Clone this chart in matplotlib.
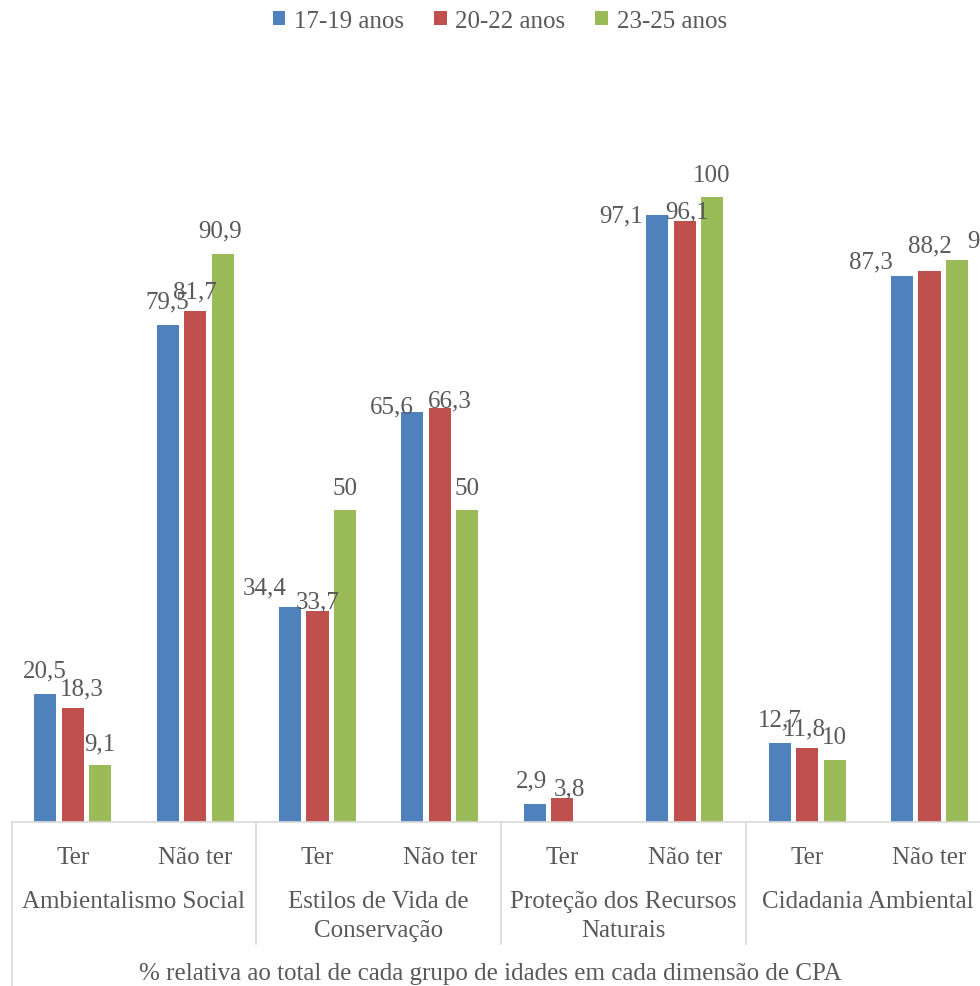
import matplotlib
matplotlib.use("Agg")
import matplotlib.pyplot as plt
import matplotlib.transforms as mtransforms
import numpy as np

# Dimensions and sub-categories
dimensions = ["Ambientalismo Social", "Estilos de Vida de\nConservação",
              "Proteção dos Recursos\nNaturais", "Cidadania Ambiental"]
subcats = ["Ter", "Não ter"]
series_names = ["17-19 anos", "20-22 anos", "23-25 anos"]

# Percentages per age group, ordered dimension by dimension (Ter, Não ter)
age_17_19 = [20.5, 79.5, 34.4, 65.6, 2.9, 97.1, 12.7, 87.3]
age_20_22 = [18.3, 81.7, 33.7, 66.3, 3.8, 96.1, 11.8, 88.2]
age_23_25 = [9.1, 90.9, 50.0, 50.0, np.nan, 100.0, 10.0, 90.0]

# Data-label placement (dx, dy in pixels from the bar top centre)
label_offsets = [
    [(0, 17), (0, 18), (-25, 14), (-21, 0), (-3, 17), (-36, -6), (0, 17), (-31, 9)],
    [(9, 13), (0, 14), (0, 4), (10, 1), (7, 4), (2, 4), (-3, 14), (0, 19)],
    [(0, 16), (-3, 17), (0, 15), (0, 15), (0, 16), (-1, 16), (0, 16), (23, 13)],
]

colors = ["#4F81BD", "#C0504D", "#9BBB59"]
text_color = "#595959"
grid_color = "#D9D9D9"
FS = 18

plt.rcParams["font.family"] = ["Liberation Serif", "DejaVu Serif"]

W, H = 980, 987
fig = plt.figure(figsize=(W / 100, H / 100), dpi=100)

# Plot area: left edge at 11.5 px, baseline at 823 px from top, right edge beyond canvas
x0, x1 = 11.5, 11.5 + 8 * 122.4
y_base, y_top = 823, 73
ax = fig.add_axes([x0 / W, (H - y_base) / H, (x1 - x0) / W, (y_base - y_top) / H])
ax.set_xlim(0, 8)
ax.set_ylim(0, 120)
ax.axis("off")

slot = 0.225
bw = 0.18
centers = np.arange(8) + 0.5
all_series = [age_17_19, age_20_22, age_23_25]
for k, (vals, name, c) in enumerate(zip(all_series, series_names, colors)):
    xs = centers + (k - 1) * slot
    v = np.array(vals, dtype=float)
    ax.bar(xs, np.nan_to_num(v), width=bw, color=c, label=name, zorder=2)
    for j, (x, val) in enumerate(zip(xs, v)):
        if np.isnan(val):
            continue
        lab = f"{val:.1f}".replace(".", ",")
        if lab.endswith(",0"):
            lab = lab[:-2]
        dx, dy = label_offsets[k][j]
        ax.annotate(lab, (x, val), xytext=(dx, dy), textcoords="offset pixels",
                    ha="center", va="baseline", fontsize=FS, color=text_color,
                    annotation_clip=False)

# Baseline and category separators
blend = mtransforms.blended_transform_factory(ax.transData, fig.transFigure)
fy = lambda px: (H - px) / H
ax.plot([0, 8], [fy(y_base), fy(y_base)], transform=blend, color=grid_color, lw=1.2, clip_on=False)
ax.plot([0, 0], [fy(y_base), fy(H)], transform=blend, color=grid_color, lw=1.2, clip_on=False)
for xv in [2, 4, 6, 8]:
    ax.plot([xv, xv], [fy(y_base), fy(945)], transform=blend, color=grid_color, lw=1.2, clip_on=False)

# Category labels
for i, c in enumerate(centers):
    ax.text(c, fy(858), subcats[i % 2], transform=blend, ha="center", va="center",
            fontsize=FS, color=text_color)
for g, name in enumerate(dimensions):
    ax.text(2 * g + 1, fy(891), name, transform=blend, ha="center", va="top",
            fontsize=FS, color=text_color, linespacing=1.4)

fig.text(0.5, fy(974), "% relativa ao total de cada grupo de idades em cada dimensão de CPA",
         ha="center", va="center", fontsize=FS, color=text_color)

leg = fig.legend(loc="upper center", bbox_to_anchor=(0.51, 1.012), ncol=3, frameon=False,
                 fontsize=FS, handlelength=0.5, handleheight=0.5, handletextpad=0.35,
                 columnspacing=1.2)
for t in leg.get_texts():
    t.set_color(text_color)

fig.savefig("out.png", dpi=100, facecolor="white")
